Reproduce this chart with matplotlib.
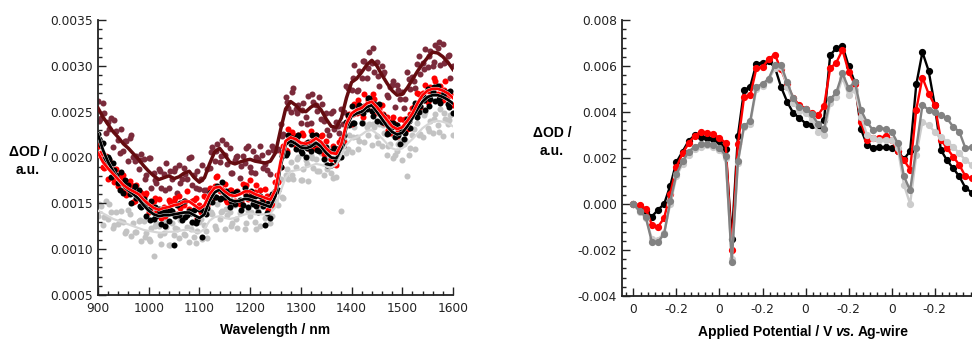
import numpy as np
import matplotlib
matplotlib.use("Agg")
import matplotlib.pyplot as plt
from matplotlib import patheffects as pe
from matplotlib.ticker import MultipleLocator, FixedLocator, FixedFormatter, FuncFormatter

plt.rcParams['font.family'] = ['DejaVu Sans']
plt.rcParams['axes.unicode_minus'] = False

# ---------------- Left panel data (values in units of 1e-4 OD) ----------------
wl_line = np.arange(900, 1601, 10)       # smoothed curves, 10 nm sampling
wl_pts = np.arange(900, 1601, 5)         # measured points, set A
wl_pts2 = np.arange(902.5, 1600, 10)     # measured points, set B

maroon_line = [25.4, 24.4, 23.6, 22.8, 22.2, 21.5, 21.0, 20.4, 19.8, 19.1,
               18.5, 18.0, 17.6, 17.8, 18.0, 17.7, 17.9, 18.3, 18.5, 17.8,
               17.3, 17.8, 19.3, 20.6, 21.0, 20.3, 19.5, 19.3, 19.5, 19.7,
               19.8, 19.6, 19.5, 19.4, 19.6, 20.5, 23.0, 25.3, 26.1, 25.7,
               25.1, 25.0, 25.5, 25.8, 25.2, 24.2, 23.4, 23.3, 24.3, 26.5,
               28.2, 28.6, 29.3, 30.1, 30.6, 30.0, 29.0, 28.1, 27.3, 26.8,
               26.9, 27.6, 28.5, 29.4, 30.2, 30.9, 31.5, 31.4, 31.0, 30.4, 29.6]
red_line = [20.5, 19.5, 18.8, 18.2, 17.6, 17.0, 16.6, 16.3, 16.0, 15.4,
            14.9, 14.5, 14.3, 14.5, 14.6, 14.8, 14.9, 15.2, 15.2, 14.8,
            14.4, 14.8, 16.0, 16.7, 16.8, 16.3, 15.9, 15.8, 16.0, 16.3,
            16.3, 16.0, 15.8, 15.6, 15.4, 16.5, 19.5, 21.8, 22.2, 22.0,
            21.6, 21.5, 21.7, 22.1, 21.7, 21.0, 20.5, 20.4, 21.5, 23.7,
            24.8, 25.2, 25.4, 25.9, 26.1, 25.5, 24.8, 24.1, 23.4, 23.1,
            23.3, 24.0, 24.8, 25.9, 26.8, 27.3, 27.5, 27.5, 27.3, 27.0, 26.5]
black_line = [22.5, 20.8, 19.5, 18.5, 17.6, 16.9, 16.4, 16.0, 15.5, 14.8,
              14.2, 13.8, 13.6, 13.7, 13.7, 13.8, 13.9, 14.0, 14.0, 13.7,
              13.4, 13.8, 15.3, 16.2, 16.5, 15.9, 15.4, 15.2, 15.3, 15.5,
              15.4, 15.2, 15.0, 14.8, 14.6, 15.8, 19.0, 21.4, 21.8, 21.5,
              21.1, 21.0, 21.2, 21.6, 21.2, 20.5, 20.0, 19.9, 21.0, 23.3,
              24.5, 24.8, 25.0, 25.5, 25.7, 25.0, 24.2, 23.4, 22.8, 22.5,
              22.7, 23.4, 24.3, 25.3, 26.1, 26.6, 26.8, 26.8, 26.6, 26.3, 25.9]
gray_line = [14.2, 13.9, 13.6, 13.3, 13.1, 12.9, 12.7, 12.5, 12.3, 12.1,
             12.0, 11.9, 11.8, 11.8, 11.9, 11.9, 12.0, 12.1, 12.1, 11.9,
             11.8, 12.2, 13.1, 13.5, 13.6, 13.4, 13.3, 13.4, 13.6, 13.8,
             13.9, 13.8, 13.8, 13.8, 13.9, 14.6, 16.3, 17.8, 18.5, 18.6,
             18.7, 18.9, 19.1, 19.3, 19.2, 19.0, 18.9, 19.2, 20.3, 21.4,
             22.0, 22.2, 22.5, 22.9, 23.0, 22.6, 22.1, 21.5, 21.0, 20.8,
             21.0, 21.5, 22.0, 22.6, 23.2, 23.6, 23.9, 24.0, 23.9, 23.7, 23.4]

maroon_pts = [26.2, 24.3, 25.9, 22.7, 23.9, 24.3, 21.1, 22.9, 21.9, 23.1,
              20.7, 21.8, 19.6, 22.4, 20.0, 20.2, 18.7, 20.4, 19.8, 18.1,
              19.9, 16.7, 18.3, 17.2, 18.7, 16.7, 18.2, 19.4, 16.7, 17.7,
              18.5, 16.1, 19.2, 17.7, 18.9, 17.6, 19.9, 17.0, 18.1, 18.5,
              16.6, 19.2, 16.4, 18.7, 18.9, 21.1, 19.6, 21.5, 19.5, 21.9,
              20.3, 19.3, 21.0, 18.3, 19.7, 20.2, 17.8, 20.2, 19.4, 21.2,
              19.0, 20.7, 18.3, 19.8, 21.2, 18.8, 19.3, 20.6, 18.2, 20.8,
              20.9, 20.9, 23.6, 22.6, 26.6, 25.4, 25.0, 27.6, 25.3, 25.7,
              23.8, 25.9, 24.4, 26.7, 23.8, 26.1, 25.7, 26.6, 24.2, 24.0,
              24.9, 22.4, 24.9, 23.1, 23.9, 22.7, 25.3, 25.0, 27.8, 27.5,
              27.4, 30.1, 27.3, 29.4, 28.7, 30.5, 28.7, 31.5, 30.3, 29.3,
              30.4, 27.8, 30.0, 29.3, 26.8, 27.7, 27.9, 25.5, 27.9, 26.4,
              27.2, 26.4, 29.3, 27.5, 28.8, 27.6, 30.2, 29.1, 30.3, 31.8,
              29.9, 31.6, 30.0, 32.3, 32.0, 30.1, 32.4, 30.4, 31.1, 28.7, 30.0]
maroon_pts2 = [24.0, 24.9, 23.1, 24.1, 20.5, 21.8, 22.1, 19.6, 19.7, 17.7,
               19.9, 17.5, 18.5, 16.5, 18.5, 18.9, 17.2, 18.2, 20.0, 16.7,
               17.7, 16.5, 20.6, 20.7, 20.2, 21.5, 18.3, 20.1, 19.1, 21.0,
               18.4, 20.0, 20.3, 18.6, 21.3, 20.8, 22.3, 26.1, 27.1, 24.9,
               25.2, 23.6, 26.9, 25.1, 25.8, 23.0, 25.1, 23.4, 23.7, 27.6,
               28.7, 27.4, 30.5, 29.8, 31.9, 28.9, 29.1, 26.6, 28.3, 27.4,
               25.4, 28.6, 28.4, 31.1, 29.7, 31.1, 30.4, 32.6, 30.3, 31.2]
red_pts = [21.2, 20.5, 19.0, 20.2, 17.7, 18.7, 17.8, 18.7, 16.9, 17.6,
           18.1, 15.9, 16.5, 17.0, 15.1, 17.0, 15.7, 16.1, 14.8, 16.1,
           14.1, 14.9, 15.2, 13.9, 15.5, 13.4, 14.6, 14.2, 15.4, 14.0,
           15.3, 13.8, 15.8, 15.0, 14.8, 16.3, 14.4, 15.3, 15.4, 13.4,
           14.8, 14.4, 15.8, 14.8, 16.7, 15.5, 16.9, 18.0, 16.3, 16.5,
           17.1, 15.1, 16.4, 16.2, 15.2, 16.3, 14.9, 17.1, 16.1, 15.5,
           17.5, 15.9, 16.2, 15.0, 16.4, 15.3, 16.6, 14.3, 15.7, 15.9,
           17.3, 17.3, 19.0, 21.2, 20.8, 23.1, 22.0, 22.5, 21.2, 22.5,
           21.3, 22.5, 21.6, 21.0, 22.9, 21.0, 22.4, 21.5, 22.3, 20.4,
           21.8, 20.6, 19.8, 20.8, 19.2, 21.7, 22.0, 21.7, 23.7, 24.7,
           23.7, 25.8, 24.9, 25.5, 24.8, 26.9, 25.5, 26.2, 25.1, 26.4,
           25.0, 25.3, 25.7, 23.8, 24.4, 22.7, 24.0, 23.7, 22.3, 24.2,
           23.1, 24.2, 23.1, 24.7, 25.4, 25.0, 27.0, 25.5, 27.0, 27.9,
           26.1, 27.7, 27.3, 28.4, 26.9, 27.8, 26.3, 28.4, 26.7, 26.9, 25.7]
red_pts2 = [20.3, 18.9, 19.7, 17.3, 18.0, 16.6, 17.4, 15.2, 16.2, 15.9,
            14.2, 15.6, 14.2, 13.6, 15.1, 15.6, 14.5, 15.3, 14.0, 15.6,
            14.1, 15.7, 15.5, 17.9, 16.6, 15.4, 16.4, 16.2, 15.1, 17.0,
            15.9, 17.0, 15.2, 15.8, 14.8, 18.1, 20.5, 20.7, 22.8, 21.7,
            22.7, 21.1, 21.8, 21.2, 22.4, 20.5, 21.2, 20.1, 21.3, 24.5,
            24.7, 26.3, 24.4, 26.3, 26.9, 24.8, 24.7, 23.0, 24.4, 22.9,
            24.1, 23.2, 25.5, 26.9, 26.3, 27.3, 28.7, 26.8, 27.4, 25.7]
black_pts = [22.6, 21.4, 21.6, 19.5, 20.0, 17.9, 19.4, 18.1, 17.2, 18.4,
             16.1, 17.0, 17.0, 15.0, 16.4, 15.6, 16.5, 14.6, 15.5, 13.6,
             14.4, 15.2, 13.3, 13.6, 14.4, 12.7, 14.2, 14.0, 13.1, 14.2,
             10.5, 14.8, 13.7, 13.2, 15.2, 13.7, 14.2, 13.0, 14.3, 13.2,
             14.4, 11.3, 14.1, 14.5, 16.1, 15.1, 15.7, 16.9, 15.5, 17.3,
             15.7, 16.1, 14.6, 16.0, 14.9, 16.2, 15.4, 14.8, 16.7, 14.6,
             15.7, 14.9, 15.8, 14.1, 15.8, 14.7, 12.6, 15.0, 13.4, 15.9,
             16.3, 16.5, 19.0, 20.6, 20.3, 22.4, 21.5, 21.9, 20.9, 22.5,
             20.7, 21.3, 20.0, 21.7, 20.7, 21.5, 22.5, 20.7, 21.5, 19.8,
             21.1, 20.7, 19.2, 21.0, 19.7, 21.0, 20.1, 22.5, 23.9, 23.5,
             25.6, 23.8, 25.0, 25.7, 23.8, 25.6, 25.3, 26.5, 25.1, 25.8,
             24.0, 25.8, 23.9, 23.9, 22.6, 23.8, 23.3, 22.2, 23.5, 21.5,
             22.9, 22.7, 24.2, 23.2, 24.6, 25.9, 24.4, 25.6, 26.7, 25.2,
             27.5, 26.4, 27.2, 26.2, 27.8, 25.9, 26.8, 27.2, 25.8, 27.3, 24.9]
black_pts2 = [22.0, 19.7, 19.8, 18.6, 16.4, 17.5, 16.0, 16.9, 14.7, 14.9,
              13.2, 14.6, 14.1, 12.5, 14.3, 13.6, 15.0, 13.5, 13.9, 12.8,
              14.4, 13.8, 16.2, 15.7, 15.6, 16.3, 15.2, 16.2, 14.3, 15.8,
              16.3, 14.7, 15.1, 13.9, 16.0, 16.3, 20.2, 20.5, 22.1, 22.2,
              20.5, 21.0, 22.5, 20.8, 21.2, 19.2, 20.7, 20.2, 21.2, 24.6,
              23.8, 25.4, 24.8, 26.5, 24.5, 25.1, 24.6, 22.7, 23.8, 22.4,
              22.0, 24.0, 25.4, 25.0, 26.3, 25.6, 27.7, 26.4, 27.1, 25.5]
gray_pts = [13.6, 14.7, 12.6, 15.2, 13.3, 14.0, 12.3, 14.1, 12.7, 14.2,
            13.0, 12.0, 14.3, 11.4, 12.9, 11.9, 13.1, 10.9, 13.1, 11.8,
            11.1, 12.3, 9.3, 12.8, 12.5, 10.6, 11.8, 12.4, 10.5, 12.9,
            11.5, 12.2, 11.2, 13.6, 11.6, 12.4, 10.8, 12.8, 11.3, 12.0,
            13.0, 11.1, 12.6, 11.2, 13.9, 13.8, 12.5, 14.9, 13.3, 14.2,
            12.2, 13.7, 14.1, 12.8, 14.8, 12.3, 13.9, 14.7, 12.2, 14.2,
            13.6, 15.0, 13.0, 14.3, 12.5, 15.4, 13.4, 14.0, 12.9, 15.2,
            15.3, 14.8, 17.6, 15.6, 18.1, 17.6, 19.5, 17.6, 19.0, 20.1,
            17.5, 18.7, 19.7, 17.4, 20.3, 18.8, 19.8, 18.5, 20.5, 18.1,
            19.3, 19.9, 18.3, 20.6, 17.9, 19.9, 14.2, 21.9, 20.5, 22.4,
            20.6, 23.3, 22.2, 21.8, 23.9, 21.7, 23.3, 23.7, 21.4, 23.3,
            22.3, 23.7, 21.3, 22.7, 20.3, 21.5, 22.6, 20.3, 20.7, 21.9,
            19.7, 21.9, 18.0, 21.0, 22.5, 20.9, 23.8, 22.6, 22.2, 25.0,
            23.2, 24.0, 22.7, 24.7, 23.5, 25.3, 22.3, 24.2, 23.6, 24.6, 22.5]
gray_pts2 = [14.9, 13.5, 14.9, 12.6, 13.1, 11.8, 13.8, 11.9, 13.2, 11.3,
             10.9, 12.5, 11.5, 13.1, 10.5, 12.3, 13.2, 11.5, 12.2, 10.7,
             13.3, 12.0, 14.0, 12.2, 14.1, 14.4, 12.5, 13.3, 15.2, 12.9,
             14.1, 12.2, 14.7, 13.8, 13.6, 16.3, 15.7, 18.7, 18.1, 19.8,
             17.5, 19.3, 19.9, 18.5, 20.6, 18.7, 17.8, 20.0, 21.6, 20.9,
             22.2, 20.9, 23.8, 22.4, 23.7, 21.6, 23.5, 21.3, 19.9, 21.5,
             21.5, 20.3, 23.1, 22.4, 24.6, 22.9, 24.2, 22.8, 24.9, 24.1]

# ---------------- Right panel data (values in units of 1e-3 OD) ----------------
cv_index = np.arange(57)
cv_tick_pos = [0, 7, 14, 21, 28, 35, 42, 49]
cv_tick_labels = ["0", "-0.2", "0", "-0.2", "0", "-0.2", "0", "-0.2"]
black_cv = [0, -0.1, -0.3, -0.55, -0.25, 0.0, 0.8, 1.82, 2.28, 2.75,
            3.0, 2.9, 2.85, 2.82, 2.72, 2.38, -1.5, 2.97, 4.95, 5.1,
            6.1, 6.15, 6.2, 5.95, 5.1, 4.45, 3.95, 3.75, 3.5, 3.42,
            3.4, 3.65, 6.48, 6.77, 6.88, 6.0, 5.3, 3.25, 2.58, 2.45,
            2.48, 2.46, 2.45, 2.3, 1.95, 2.3, 5.2, 6.6, 5.8, 4.3,
            2.35, 1.9, 1.55, 1.2, 0.7, 0.5, 0.45]
red_cv = [0, -0.05, -0.2, -0.9, -1.0, -0.6, 0.45, 1.6, 2.2, 2.65,
          2.97, 3.15, 3.08, 3.03, 2.88, 2.65, -2.0, 2.6, 4.65, 4.72,
          5.9, 5.95, 6.3, 6.5, 5.85, 5.2, 4.6, 4.3, 4.15, 3.95,
          3.85, 4.25, 5.9, 6.15, 6.7, 5.75, 5.2, 3.55, 2.8, 2.86,
          2.88, 2.95, 2.8, 2.3, 1.9, 1.5, 4.1, 5.5, 4.8, 4.3,
          2.8, 2.42, 2.06, 1.7, 1.2, 1.12, 1.1]
gray_cv = [0, -0.3, -0.55, -1.65, -1.65, -1.3, 0.13, 1.3, 1.85, 2.28,
           2.5, 2.6, 2.62, 2.55, 2.45, 2.1, -2.5, 1.85, 3.4, 3.6,
           5.1, 5.22, 5.45, 6.05, 6.05, 5.3, 4.6, 4.2, 4.15, 3.9,
           3.5, 3.28, 4.55, 4.85, 5.68, 5.03, 5.32, 4.09, 3.55, 3.2,
           3.29, 3.28, 3.15, 2.64, 1.2, 0.6, 2.42, 4.3, 4.1, 4.0,
           3.87, 3.72, 3.36, 3.14, 2.42, 2.49, 2.45]
light_cv = [0, -0.35, -0.6, -1.5, -1.55, -1.25, 0.0, 1.2, 1.75, 2.15,
            2.4, 2.5, 2.55, 2.5, 2.35, 2.0, -2.4, 1.8, 3.35, 3.5,
            5.0, 5.15, 5.4, 5.9, 5.95, 5.1, 4.4, 4.05, 3.95, 3.7,
            3.15, 3.0, 4.4, 4.65, 5.5, 4.74, 4.96, 3.8, 3.0, 2.86,
            2.78, 2.78, 2.78, 2.42, 0.83, 0.0, 2.13, 3.58, 3.43, 3.14,
            2.93, 2.71, 2.49, 2.2, 1.91, 1.7, 1.6]

# ---------------- Figure ----------------
fig = plt.figure(figsize=(9.72, 3.39), dpi=100)
ax1 = fig.add_axes([0.1008, 0.1298, 0.3652, 0.8112])
ax2 = fig.add_axes([0.6396, 0.1268, 0.379, 0.8142])

C_MAROON_PTS = '#7b2b3b'
C_MAROON_LINE = '#650c10'
C_RED = '#ff0000'
C_GRAY_PTS = '#c3c3c3'

s_pts = 19
for xs, ys, col, z in [(wl_pts, gray_pts, C_GRAY_PTS, 1), (wl_pts2, gray_pts2, C_GRAY_PTS, 1),
                       (wl_pts, maroon_pts, C_MAROON_PTS, 2), (wl_pts2, maroon_pts2, C_MAROON_PTS, 2),
                       (wl_pts, red_pts, C_RED, 3), (wl_pts2, red_pts2, C_RED, 3),
                       (wl_pts, black_pts, 'black', 4), (wl_pts2, black_pts2, 'black', 4)]:
    ax1.scatter(xs, np.array(ys) * 1e-4, s=s_pts, color=col, lw=0, zorder=z)

thin_white = [pe.withStroke(linewidth=2.6, foreground='#f4f4f4')]
ax1.plot(wl_line, np.array(maroon_line) * 1e-4, color=C_MAROON_LINE, lw=2.5, zorder=5)
ax1.plot(wl_line, np.array(gray_line) * 1e-4, color='#d6d6d6', lw=1.6, zorder=5)
ax1.plot(wl_line, np.array(black_line) * 1e-4, color='black', lw=2.0, zorder=6,
         path_effects=thin_white)
ax1.plot(wl_line, np.array(red_line) * 1e-4, color=C_RED, lw=2.0, zorder=7,
         path_effects=thin_white)

ax1.set_xlim(900, 1600)
ax1.set_ylim(0.0005, 0.0035)
ax1.xaxis.set_major_locator(MultipleLocator(100))
ax1.xaxis.set_minor_locator(MultipleLocator(20))
ax1.yaxis.set_major_locator(MultipleLocator(0.0005))
ax1.yaxis.set_minor_locator(MultipleLocator(0.0001))
ax1.yaxis.set_major_formatter(FuncFormatter(lambda v, p: f"{v:.4f}"))

# right panel
ms = 4.2
lw = 1.7
ax2.plot(cv_index, np.array(black_cv) * 1e-3, '-o', color='black', ms=ms, lw=lw, zorder=3)
ax2.plot(cv_index, np.array(red_cv) * 1e-3, '-o', color=C_RED, ms=ms, lw=lw, zorder=4)
ax2.plot(cv_index, np.array(light_cv) * 1e-3, '-o', color='#cccccc', ms=ms, lw=lw, zorder=5)
ax2.plot(cv_index, np.array(gray_cv) * 1e-3, '-o', color='#828282', ms=ms, lw=lw, zorder=6)

ax2.set_xlim(-1.9, 58)
ax2.set_ylim(-0.004, 0.008)
ax2.xaxis.set_major_locator(FixedLocator(cv_tick_pos))
ax2.xaxis.set_major_formatter(FixedFormatter(cv_tick_labels))
ax2.xaxis.set_minor_locator(MultipleLocator(7 / 6))
ax2.yaxis.set_major_locator(MultipleLocator(0.002))
ax2.yaxis.set_minor_locator(MultipleLocator(0.0004))
ax2.yaxis.set_major_formatter(FuncFormatter(lambda v, p: f"{v:.3f}"))

for ax in (ax1, ax2):
    for side in ('top', 'right'):
        ax.spines[side].set_visible(False)
    for side in ('left', 'bottom'):
        ax.spines[side].set_linewidth(1.3)
        ax.spines[side].set_color('#222222')
    ax.tick_params(which='both', direction='in', colors='#222222', labelcolor='#222222',
                   labelsize=8.8, width=1.0)
    ax.tick_params(which='major', length=6)
    ax.tick_params(which='minor', length=3)
    ax.tick_params(axis='x', pad=5)

lab_font = dict(family=['Liberation Sans', 'DejaVu Sans'], fontweight='bold', fontsize=10)

fig.text(275 / 972, 1 - 330 / 339, "Wavelength / nm", ha='center', va='center', **lab_font)
fig.text(28 / 972, 1 - 161 / 339, "\u0394OD /\na.u.", ha='center', va='center',
         multialignment='center', linespacing=1.35, **lab_font)
fig.text(552 / 972, 1 - 142 / 339, "\u0394OD /\na.u.", ha='center', va='center',
         multialignment='center', linespacing=1.35, **lab_font)

# x label of the right panel with italic "vs."
renderer = fig.canvas.get_renderer()
parts = [("Applied Potential / V", 'normal'), ("vs.", 'italic'), ("Ag-wire", 'normal')]
y_lab = 1 - 332 / 339
texts = [fig.text(0, y_lab, t, ha='left', va='center', fontstyle=st, **lab_font) for t, st in parts]
probe1 = fig.text(0, 0, "AA", **lab_font)
probe2 = fig.text(0, 0, "A A", **lab_font)
sp = (probe2.get_window_extent(renderer).width - probe1.get_window_extent(renderer).width)
probe1.remove(); probe2.remove()
widths = [t.get_window_extent(renderer).width for t in texts]
total = sum(widths) + 2 * sp
x0 = 803 - total / 2
for t, w in zip(texts, widths):
    t.set_x(x0 / 972)
    x0 += w + sp

fig.savefig("out.png", dpi=100)
